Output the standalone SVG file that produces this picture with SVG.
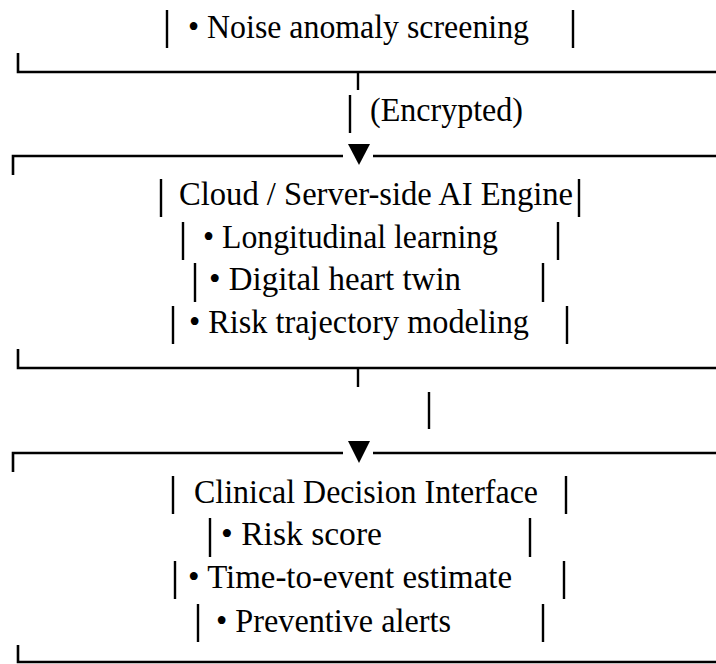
<svg xmlns="http://www.w3.org/2000/svg" width="716" height="664" viewBox="0 0 716 664">
<style>
text{font-family:"Liberation Serif","Times New Roman",serif;font-size:34px;fill:#000}
.b{stroke:#000;stroke-width:2.4;fill:none}
.h{stroke:#000;stroke-width:2.6;fill:none}
</style>
<rect width="716" height="664" fill="#fff"/>
<g id="edge-device">
<path class="b" d="M167 10V48M573 10V48"/>
<text x="188" y="38" textLength="341" lengthAdjust="spacingAndGlyphs">• Noise anomaly screening</text>
<path class="h" d="M18 53V72H716"/>
</g>
<g id="cloud-engine">
<path class="h" d="M13 175V156H343M373 156H716"/>
<path class="b" d="M161 179V217M579 179V217"/>
<text x="179" y="205" textLength="394" lengthAdjust="spacingAndGlyphs">Cloud / Server-side AI Engine</text>
<path class="b" d="M183 222V260M558 222V260"/>
<text x="203" y="248" textLength="295" lengthAdjust="spacingAndGlyphs">• Longitudinal learning</text>
<path class="b" d="M195 263V302M543 263V302"/>
<text x="209" y="290" textLength="252" lengthAdjust="spacingAndGlyphs">• Digital heart twin</text>
<path class="b" d="M173 306V344M567 306V344"/>
<text x="189" y="333" textLength="340" lengthAdjust="spacingAndGlyphs">• Risk trajectory modeling</text>
<path class="h" d="M18 349V368H716"/>
</g>
<g id="clinical-interface">
<path class="h" d="M13 472V453H343M373 453H716"/>
<path class="b" d="M173 476V514M566 476V514"/>
<text x="194" y="503" textLength="344" lengthAdjust="spacingAndGlyphs">Clinical Decision Interface</text>
<path class="b" d="M210 518V557M530 518V557"/>
<text x="221" y="545" textLength="161" lengthAdjust="spacingAndGlyphs">• Risk score</text>
<path class="b" d="M175 561V599M564 561V599"/>
<text x="188" y="588" textLength="324" lengthAdjust="spacingAndGlyphs">• Time-to-event estimate</text>
<path class="b" d="M198 604V642M543 604V642"/>
<text x="216" y="632" textLength="235" lengthAdjust="spacingAndGlyphs">• Preventive alerts</text>
<path class="h" d="M18 645V662H716"/>
</g>
<g id="connectors">
<path class="b" d="M358 72V90M350 95V133"/>
<text x="370" y="121" textLength="153" lengthAdjust="spacingAndGlyphs">(Encrypted)</text>
<polygon points="348,144 370,144 359,165" fill="#000"/>
<path class="b" d="M358 368V387M429 392V429"/>
<polygon points="348,441 370,441 359,463" fill="#000"/>
</g>
</svg>
